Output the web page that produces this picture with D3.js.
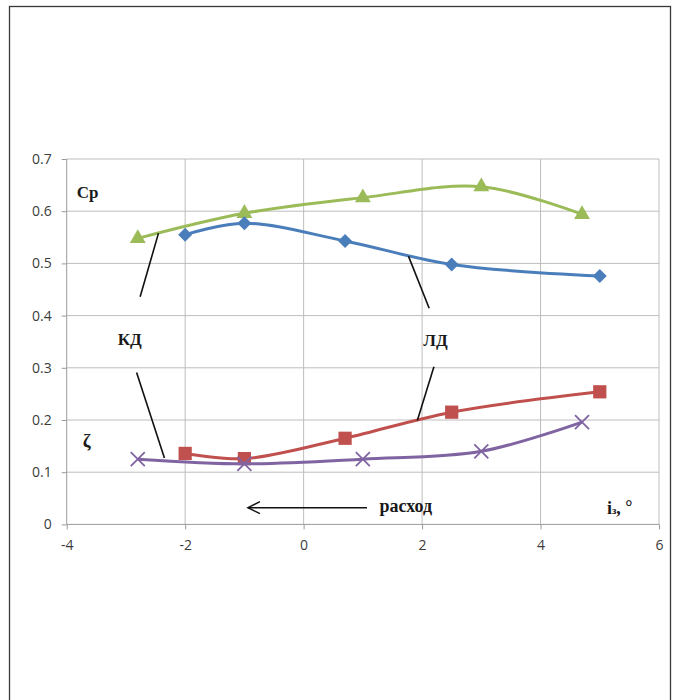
<!DOCTYPE html>
<html>

<head>
    <meta charset="UTF-8">
    <script src="https://d3js.org/d3.v7.min.js"></script>
    <style>
        body { margin: 0; background: #fff; }
        .tick text { font-family: "Open Sans", "Liberation Sans", sans-serif; font-size: 14px; fill: #3c3c3c; }
        .note { font-family: "Liberation Serif", "DejaVu Serif", serif; font-weight: bold; fill: #1a1a1a; }
    </style>
</head>

<body>
<div id="chart"></div>
<script>
    // x values (angle, degrees) and series values
    const xKD = [-2.8, -1.0, 1.0, 3.0, 4.7];
    const xLD = [-2.0, -1.0, 0.7, 2.5, 5.0];
    const cpKD = [0.548, 0.596, 0.626, 0.647, 0.594];
    const cpLD = [0.555, 0.577, 0.543, 0.498, 0.476];
    const zetaLD = [0.136, 0.126, 0.165, 0.215, 0.254];
    const zetaKD = [0.125, 0.116, 0.125, 0.140, 0.196];

    const xTicks = [-4, -2, 0, 2, 4, 6];
    const yTicks = [0, 0.1, 0.2, 0.3, 0.4, 0.5, 0.6, 0.7];

    // leader lines for the КД / ЛД labels, in data units
    const leaders = [
        [[-2.45, 0.558], [-2.76, 0.436]],
        [[-2.82, 0.291], [-2.35, 0.127]],
        [[1.77, 0.514], [2.12, 0.414]],
        [[2.20, 0.302], [1.92, 0.199]]
    ];

    const W = 684, H = 700;
    const svg = d3.select("#chart")
        .append("svg")
        .attr("width", W)
        .attr("height", H);

    // outer frame of the figure
    svg.append("rect")
        .attr("x", 9.5).attr("y", 6.5)
        .attr("width", 661).attr("height", 720)
        .attr("fill", "none")
        .attr("stroke", "#3a3a3a")
        .attr("stroke-width", 1.3);

    const x = d3.scaleLinear().domain([-4, 6]).range([66.7, 659]);
    const y = d3.scaleLinear().domain([0, 0.7]).range([524.4, 159]);

    // grid
    svg.append("g")
        .selectAll("line.h")
        .data(yTicks.slice(1))
        .join("line")
        .attr("x1", x(-4)).attr("x2", x(6))
        .attr("y1", d => y(d)).attr("y2", d => y(d))
        .attr("stroke", "#bdbdbd").attr("stroke-width", 1);
    svg.append("g")
        .selectAll("line.v")
        .data(xTicks.slice(1))
        .join("line")
        .attr("x1", d => x(d)).attr("x2", d => x(d))
        .attr("y1", y(0)).attr("y2", y(0.7))
        .attr("stroke", "#bdbdbd").attr("stroke-width", 1);

    // axes
    const yAxis = svg.append("g")
        .attr("transform", `translate(${x(-4)},0)`)
        .call(d3.axisLeft(y).tickValues(yTicks).tickSize(5).tickPadding(10)
            .tickFormat(d => d === 0 ? "0" : d3.format(".1f")(d)));
    const xAxis = svg.append("g")
        .attr("transform", `translate(0,${y(0)})`)
        .call(d3.axisBottom(x).tickValues(xTicks).tickSize(5).tickPadding(11)
            .tickFormat(d => d < 0 ? "-" + Math.abs(d) : d));
    [yAxis, xAxis].forEach(a => {
        a.selectAll("path.domain").attr("stroke", "#9a9a9a");
        a.selectAll(".tick line").attr("stroke", "#9a9a9a");
    });
    yAxis.select("path.domain").attr("d", `M0,${y(0)}V${y(0.7)}`);
    xAxis.select("path.domain").attr("d", `M${x(-4)},0H${x(6)}`);

    const curve = d3.curveCatmullRom.alpha(0.5);
    const line = d3.line().x(d => x(d[0])).y(d => y(d[1])).curve(curve);

    const series = [
        {xs: xKD, ys: cpKD, color: "#9bbb59", marker: "triangle"},
        {xs: xLD, ys: cpLD, color: "#4a7ebb", marker: "diamond"},
        {xs: xLD, ys: zetaLD, color: "#c0504d", marker: "square"},
        {xs: xKD, ys: zetaKD, color: "#8064a2", marker: "cross"}
    ];

    const symbols = {
        triangle: d3.symbol().type(d3.symbolTriangle).size(110),
        diamond: d3.symbol().type(d3.symbolDiamond2).size(125),
        square: d3.symbol().type(d3.symbolSquare).size(175),
        cross: d3.symbol().type(d3.symbolX).size(130)
    };

    series.forEach(s => {
        const pts = s.xs.map((v, i) => [v, s.ys[i]]);
        svg.append("path")
            .datum(pts)
            .attr("d", line)
            .attr("fill", "none")
            .attr("stroke", s.color)
            .attr("stroke-width", 3);
        svg.append("g")
            .selectAll("path")
            .data(pts)
            .join("path")
            .attr("transform", d => `translate(${x(d[0])},${y(d[1])})`)
            .attr("d", symbols[s.marker])
            .attr("fill", s.marker === "cross" ? "none" : s.color)
            .attr("stroke", s.color)
            .attr("stroke-width", s.marker === "cross" ? 1.8 : 0);
    });

    // leader lines
    svg.append("g")
        .selectAll("line")
        .data(leaders)
        .join("line")
        .attr("x1", d => x(d[0][0])).attr("y1", d => y(d[0][1]))
        .attr("x2", d => x(d[1][0])).attr("y2", d => y(d[1][1]))
        .attr("stroke", "#111").attr("stroke-width", 1.6);

    // arrow "расход"
    const ax1 = x(1.07), ax2 = x(-0.94), ay = y(0.032);
    svg.append("line")
        .attr("x1", ax1).attr("y1", ay).attr("x2", ax2).attr("y2", ay)
        .attr("stroke", "#111").attr("stroke-width", 1.5);
    svg.append("path")
        .attr("d", `M${ax2 + 12},${ay - 6}L${ax2},${ay}L${ax2 + 12},${ay + 6}`)
        .attr("fill", "none").attr("stroke", "#111").attr("stroke-width", 1.5);

    // labels
    const note = (tx, ty, txt, size) => svg.append("text")
        .attr("class", "note")
        .attr("x", x(tx)).attr("y", y(ty))
        .style("font-size", size + "px")
        .text(txt);
    note(-3.83, 0.625, "Cp", 17);
    note(-3.14, 0.343, "КД", 17);
    note(2.02, 0.341, "ЛД", 17);
    note(-3.73, 0.148, "ζ", 19);
    note(1.28, 0.023, "расход", 18);

    const il = svg.append("text")
        .attr("class", "note")
        .attr("x", x(5.12)).attr("y", y(0.02))
        .style("font-size", "18px");
    il.append("tspan").text("i");
    il.append("tspan").style("font-size", "11px").text("з");
    il.append("tspan").text(", ");
    il.append("tspan").attr("dy", -1).style("font-size", "18px").text("°");
</script>
</body>

</html>
